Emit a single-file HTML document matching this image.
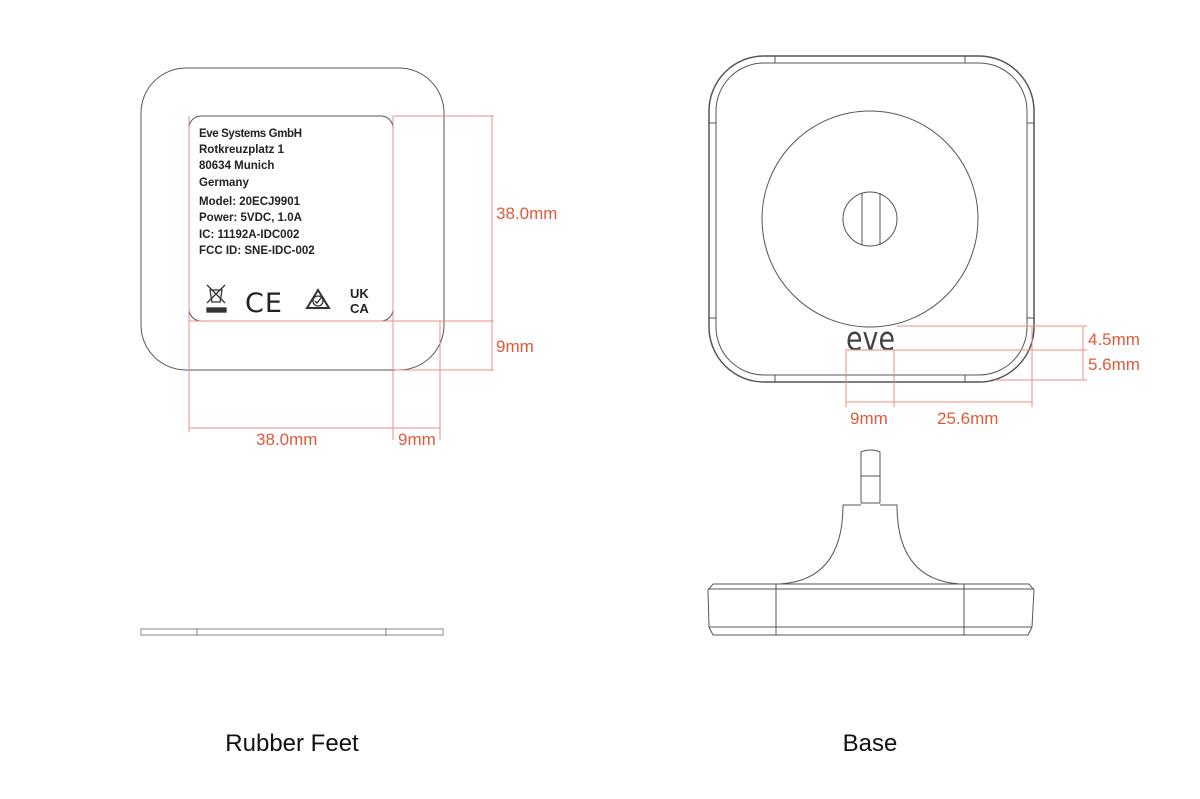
<!DOCTYPE html>
<html><head><style>
html,body{margin:0;padding:0;background:#fff;}
svg{display:block;}
text{font-family:"Liberation Sans",Arial,sans-serif;}
.r{fill:#e05a3a;font-size:17px;}
.l{fill:#222;font-size:11.5px;font-weight:bold;}
</style></head><body>
<svg width="1200" height="799" viewBox="0 0 1200 799" xmlns="http://www.w3.org/2000/svg">
<g fill="none" stroke="#555" stroke-width="1">
  <rect x="141" y="68" width="303" height="302" rx="45"/>
  <rect x="189" y="116" width="204" height="205" rx="12"/>
  <rect x="141" y="629" width="302" height="6" stroke="#888"/>
  <line x1="197" y1="628" x2="197" y2="636" stroke="#888"/>
  <line x1="386" y1="628" x2="386" y2="636" stroke="#888"/>
</g>
<g fill="none" stroke="#e89080" stroke-width="1">
  <line x1="393" y1="116" x2="494" y2="116"/>
  <line x1="189" y1="321" x2="494" y2="321"/>
  <line x1="395" y1="370" x2="494" y2="370"/>
  <line x1="492" y1="116" x2="492" y2="370"/>
  <line x1="189" y1="116" x2="189" y2="432"/>
  <line x1="393" y1="116" x2="393" y2="440"/>
  <line x1="440" y1="321" x2="440" y2="440"/>
  <line x1="189" y1="428" x2="440" y2="428"/>
</g>
<text class="l" x="199" y="137" textLength="103">Eve Systems GmbH</text>
<text class="l" x="199" y="153">Rotkreuzplatz 1</text>
<text class="l" x="199" y="169">80634 Munich</text>
<text class="l" x="199" y="186">Germany</text>
<text class="l" x="199" y="205">Model: 20ECJ9901</text>
<text class="l" x="199" y="221">Power: 5VDC, 1.0A</text>
<text class="l" x="199" y="238">IC: 11192A-IDC002</text>
<text class="l" x="199" y="254">FCC ID: SNE-IDC-002</text>
<g stroke="#333" fill="none" stroke-width="1.3">
  <path d="M207 285 L225 303 M225 285 L207 303 M210 290 h12 l-2 12 h-8 z"/>
  <rect x="207" y="308" width="19" height="4" fill="#333"/>
  <path d="M318 290 L307 308 H329 Z" stroke-width="2"/>
  <circle cx="318" cy="301" r="5"/>
  <path d="M315 301 l2 2 l4 -5"/>
</g>
<text x="245" y="312" style="font-size:27px;fill:#222;font-family:'DejaVu Sans',sans-serif;letter-spacing:1px">CE</text>
<text x="350" y="298" style="font-size:13px;fill:#222;font-weight:bold">UK</text>
<text x="350" y="313" style="font-size:13px;fill:#222;font-weight:bold">CA</text>
<text class="r" x="496" y="219">38.0mm</text>
<text class="r" x="496" y="352">9mm</text>
<text class="r" x="256" y="445">38.0mm</text>
<text class="r" x="398" y="445">9mm</text>

<g fill="none" stroke="#555" stroke-width="1">
  <rect x="709" y="56" width="325" height="326" rx="55" stroke-width="1.5"/>
  <rect x="716" y="63" width="311" height="312" rx="48"/>
  <path d="M775 56v7M965 56v7M775 375v7M965 375v7M709 123h7M709 318h7M1027 123h7M1027 318h7"/>
  <circle cx="870" cy="219" r="108"/>
  <circle cx="870" cy="219" r="27"/>
  <line x1="862" y1="193" x2="862" y2="245"/>
  <line x1="880" y1="193" x2="880" y2="245"/>
</g>
<text x="846" y="350" textLength="49" lengthAdjust="spacingAndGlyphs" style="font-size:33px;fill:#444;font-family:'DejaVu Sans Condensed','Liberation Sans Narrow',sans-serif;font-weight:200">eve</text>
<g fill="none" stroke="#e89080" stroke-width="1">
  <line x1="897" y1="326" x2="1087" y2="326"/>
  <line x1="846" y1="350" x2="1087" y2="350"/>
  <line x1="995" y1="380" x2="1087" y2="380"/>
  <line x1="1083" y1="326" x2="1083" y2="380"/>
  <line x1="846" y1="350" x2="846" y2="407"/>
  <line x1="894" y1="350" x2="894" y2="407"/>
  <line x1="1032" y1="326" x2="1032" y2="407"/>
  <line x1="846" y1="402" x2="1032" y2="402"/>
</g>
<text class="r" x="1088" y="345">4.5mm</text>
<text class="r" x="1088" y="370">5.6mm</text>
<text class="r" x="850" y="424">9mm</text>
<text class="r" x="937" y="424">25.6mm</text>

<g fill="none" stroke="#555" stroke-width="1">
  <path d="M861 503 V452 Q870 448 880 452 V503"/>
  <line x1="861" y1="476" x2="880" y2="476"/>
  <path d="M861 503 H880 M861 505 H843 Q843 580 780 584 M880 505 H897 Q897 580 960 584"/>
  <path d="M713 584 H1029 L1034 590 L1032 627 L1028 635 H713 L709 627 L708 590 Z"/>
  <line x1="708" y1="589" x2="1034" y2="589"/>
  <line x1="709" y1="627" x2="1032" y2="627"/>
  <line x1="776" y1="584" x2="776" y2="635"/>
  <line x1="964" y1="584" x2="964" y2="635"/>
</g>
<text x="292" y="751" text-anchor="middle" style="font-size:24px;fill:#111">Rubber Feet</text>
<text x="870" y="751" text-anchor="middle" style="font-size:24px;fill:#111">Base</text>
</svg>
</body></html>
